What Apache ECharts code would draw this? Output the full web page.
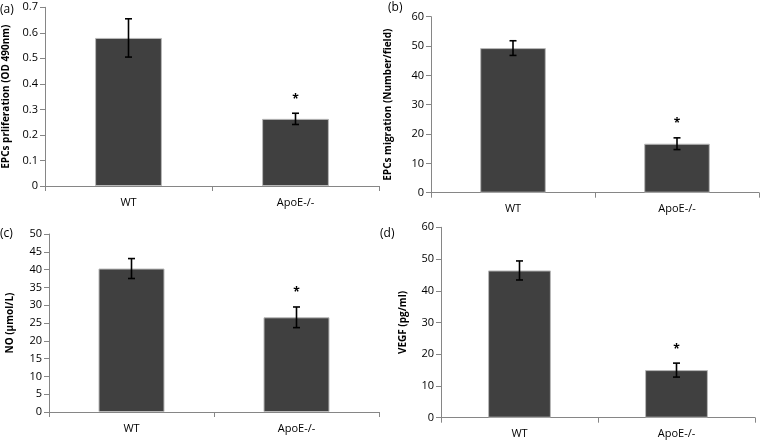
<!DOCTYPE html>
<html>
<head>
<meta charset="utf-8">
<script src="https://cdn.jsdelivr.net/npm/echarts@6/dist/echarts.min.js"></script>
<style>html,body{margin:0;padding:0;background:#fff;}#c{width:760px;height:440px;}</style>
</head>
<body>
<div id="c"></div>
<script>
var categories = ['WT', 'ApoE-/-'];
var panelLabels = ['(a)', '(b)', '(c)', '(d)'];
var yTitles = ['EPCs prliferation (OD 490nm)', 'EPCs migration (Number/field)', 'NO (\u03bcmol/L)', 'VEGF (pg/ml)'];
var meansA = [0.58, 0.263];
var errA = [0.075, 0.022];
var meansB = [49.3, 16.7];
var errB = [2.5, 2.0];
var meansC = [40.3, 26.6];
var errC = [2.8, 2.9];
var meansD = [46.4, 15.0];
var errD = [3.0, 2.2];
var significant = [0, 1];
var yMax = [0.7, 60, 50, 60];
var yInterval = [0.1, 10, 5, 10];

var means = [meansA, meansB, meansC, meansD];
var errs = [errA, errB, errC, errD];

var FONT = 'Open Sans';
var grids = [
  {left: 44, top: 7.3, width: 335, height: 178.7},
  {left: 431, top: 16.7, width: 328, height: 176},
  {left: 49, top: 234, width: 330, height: 178},
  {left: 441, top: 227.3, width: 314, height: 190.4}
];
var nameGaps = [34, 38, 34, 33];
var labelPos = [[0, 4], [388, 2], [0, 228], [380, 228]];

var axisColor = '#868686';
var xAxes = [], yAxes = [], series = [], titles = [];
for (var i = 0; i < 4; i++) {
  xAxes.push({
    type: 'category', gridIndex: i, data: categories,
    axisLine: {lineStyle: {color: axisColor, width: 1}},
    axisTick: {show: true, length: 5, lineStyle: {color: axisColor}},
    axisLabel: {color: '#000', fontFamily: FONT, fontSize: 11, margin: 11}
  });
  yAxes.push({
    type: 'value', gridIndex: i, min: 0, max: yMax[i], interval: yInterval[i],
    name: yTitles[i], nameLocation: 'middle', nameGap: nameGaps[i], nameRotate: 90,
    nameTextStyle: {color: '#000', fontFamily: FONT, fontSize: 10, fontWeight: 'bold'},
    axisLine: {show: true, lineStyle: {color: axisColor, width: 1}},
    axisTick: {show: true, length: 5, lineStyle: {color: axisColor}},
    splitLine: {show: false},
    axisLabel: {color: '#000', fontFamily: FONT, fontSize: 11, margin: 7}
  });
  series.push({
    type: 'bar', xAxisIndex: i, yAxisIndex: i, data: means[i],
    barCategoryGap: '60%',
    itemStyle: {color: '#404040', borderColor: '#b8b8b8', borderWidth: 1},
    silent: true
  });
  var ed = [];
  for (var j = 0; j < categories.length; j++) {
    ed.push([j, means[i][j], errs[i][j], significant[j]]);
  }
  series.push({
    type: 'custom', xAxisIndex: i, yAxisIndex: i, data: ed, z: 10,
    renderItem: function (params, api) {
      var x = api.value(0), m = api.value(1), e = api.value(2), s = api.value(3);
      var top = api.coord([x, m + e]);
      var bot = api.coord([x, m - e]);
      var cw = 3.5;
      var ls = {stroke: '#000', lineWidth: 1.6};
      var children = [
        {type: 'line', shape: {x1: top[0], y1: top[1], x2: bot[0], y2: bot[1]}, style: ls},
        {type: 'line', shape: {x1: top[0] - cw, y1: top[1], x2: top[0] + cw, y2: top[1]}, style: ls},
        {type: 'line', shape: {x1: bot[0] - cw, y1: bot[1], x2: bot[0] + cw, y2: bot[1]}, style: ls}
      ];
      if (s) {
        children.push({type: 'text', style: {x: top[0], y: top[1] - 14, text: '*', fill: '#000',
          font: 'bold 12px "' + FONT + '"', textAlign: 'center', textVerticalAlign: 'middle'}});
      }
      return {type: 'group', children: children};
    }
  });
  titles.push({text: panelLabels[i], left: labelPos[i][0], top: labelPos[i][1],
    textStyle: {fontFamily: FONT, fontSize: 12, fontWeight: 'normal', color: '#000'}, padding: 0});
}

var chart = echarts.init(document.getElementById('c'), null, {renderer: 'canvas'});
chart.setOption({
  animation: false,
  backgroundColor: '#fff',
  title: titles,
  grid: grids,
  xAxis: xAxes,
  yAxis: yAxes,
  series: series
});
</script>
</body>
</html>
